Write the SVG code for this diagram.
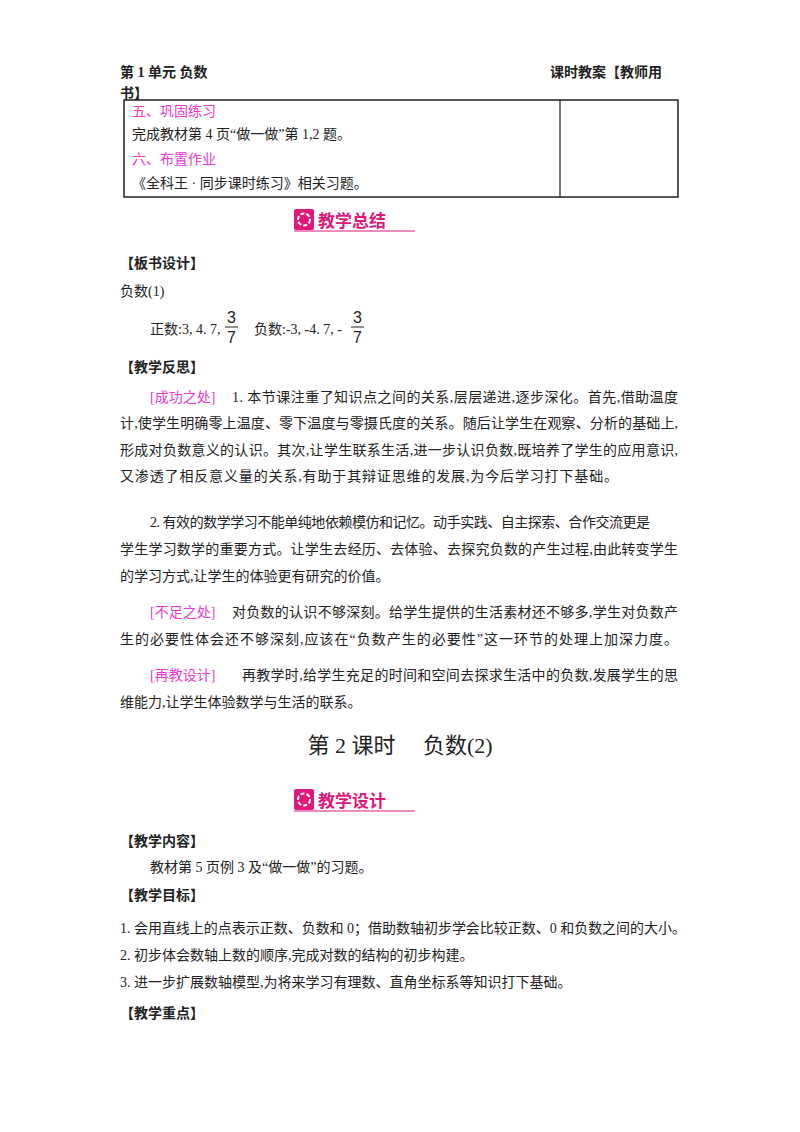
<svg xmlns="http://www.w3.org/2000/svg" width="800" height="1132" viewBox="0 0 800 1132">
<style>
text{font-family:"Liberation Serif","Noto Sans CJK SC",serif;font-size:14px;fill:#222}
.b{font-weight:bold}
.p{fill:#e83ad0}
.h{font-weight:bold;fill:#e0187a;font-size:17px}
.f{font-family:"Liberation Sans",sans-serif;font-size:16px}
.t{font-size:22px}
</style>
<rect width="800" height="1132" fill="#fff"/>
<g id="header">
<text x="120" y="77" class="b">第 1 单元 负数</text>
<text x="120" y="98" class="b">书】</text>
<text x="550" y="77" class="b">课时教案【教师用</text>
</g>
<g id="table">
<rect x="124" y="100" width="554" height="97" fill="none" stroke="#222" stroke-width="1.5"/>
<line x1="560" y1="100" x2="560" y2="197" stroke="#222" stroke-width="1.2"/>
<text x="132" y="116" class="p">五、巩固练习</text>
<text x="132" y="139">完成教材第 4 页“做一做”第 1,2 题。</text>
<text x="132" y="164" class="p">六、布置作业</text>
<text x="132" y="188">《全科王 · 同步课时练习》相关习题。</text>
</g>
<g id="badge1">
<rect x="294" y="209" width="20" height="21" fill="#e0187a" rx="2"/>
<circle cx="304" cy="219.5" r="6" fill="none" stroke="#fff" stroke-width="2" stroke-dasharray="4 2"/>
<text x="318" y="227" class="h">教学总结</text>
<line x1="294" y1="231" x2="415" y2="231" stroke="#e0187a"/>
</g>
<g id="body1">
<text x="120" y="268" class="b">【板书设计】</text>
<text x="120" y="296">负数(1)</text>
<text x="150" y="334">正数:3, 4. 7,</text>
<text x="227" y="323" class="f">3</text>
<line x1="225" y1="327" x2="238" y2="327" stroke="#222"/>
<text x="227" y="343" class="f">7</text>
<text x="254" y="334">负数:-3, -4. 7, -</text>
<text x="353" y="323" class="f">3</text>
<line x1="351" y1="327" x2="364" y2="327" stroke="#222"/>
<text x="353" y="343" class="f">7</text>
<text x="120" y="372" class="b">【教学反思】</text>
<text x="150" y="402" class="p">[成功之处]</text>
<text x="232" y="402" textLength="446">1. 本节课注重了知识点之间的关系,层层递进,逐步深化。首先,借助温度</text>
<text x="120" y="428" textLength="558">计,使学生明确零上温度、零下温度与零摄氏度的关系。随后让学生在观察、分析的基础上,</text>
<text x="120" y="455" textLength="558">形成对负数意义的认识。其次,让学生联系生活,进一步认识负数,既培养了学生的应用意识,</text>
<text x="120" y="481" textLength="498">又渗透了相反意义量的关系,有助于其辩证思维的发展,为今后学习打下基础。</text>
<text x="150" y="527" textLength="500">2. 有效的数学学习不能单纯地依赖模仿和记忆。动手实践、自主探索、合作交流更是</text>
<text x="120" y="554" textLength="558">学生学习数学的重要方式。让学生去经历、去体验、去探究负数的产生过程,由此转变学生</text>
<text x="120" y="581">的学习方式,让学生的体验更有研究的价值。</text>
<text x="150" y="617" class="p">[不足之处]</text>
<text x="232" y="617" textLength="446">对负数的认识不够深刻。给学生提供的生活素材还不够多,学生对负数产</text>
<text x="120" y="644" textLength="558">生的必要性体会还不够深刻,应该在“负数产生的必要性”这一环节的处理上加深力度。</text>
<text x="150" y="680" class="p">[再教设计]</text>
<text x="242" y="680" textLength="436">再教学时,给学生充足的时间和空间去探求生活中的负数,发展学生的思</text>
<text x="120" y="707">维能力,让学生体验数学与生活的联系。</text>
</g>
<g id="title">
<text x="400" y="753" class="t" text-anchor="middle">第 2 课时　 负数(2)</text>
</g>
<g id="badge2">
<rect x="294" y="789" width="20" height="21" fill="#e0187a" rx="2"/>
<circle cx="304" cy="799.5" r="6" fill="none" stroke="#fff" stroke-width="2" stroke-dasharray="4 2"/>
<text x="318" y="807" class="h">教学设计</text>
<line x1="294" y1="811" x2="415" y2="811" stroke="#e0187a"/>
</g>
<g id="body2">
<text x="120" y="846" class="b">【教学内容】</text>
<text x="150" y="872">教材第 5 页例 3 及“做一做”的习题。</text>
<text x="120" y="900" class="b">【教学目标】</text>
<text x="120" y="933" textLength="566">1. 会用直线上的点表示正数、负数和 0；借助数轴初步学会比较正数、0 和负数之间的大小。</text>
<text x="120" y="960">2. 初步体会数轴上数的顺序,完成对数的结构的初步构建。</text>
<text x="120" y="987">3. 进一步扩展数轴模型,为将来学习有理数、直角坐标系等知识打下基础。</text>
<text x="120" y="1018" class="b">【教学重点】</text>
</g>
</svg>
